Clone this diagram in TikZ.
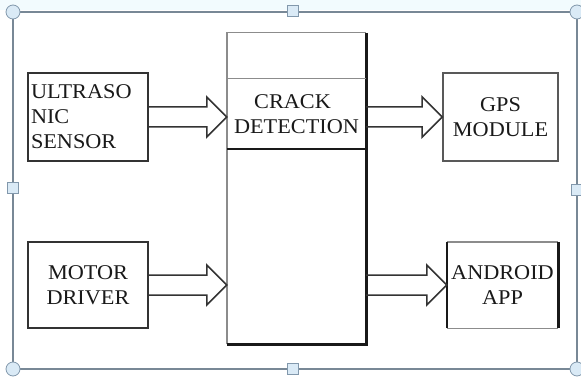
\documentclass[tikz,border=0pt]{standalone}
\usepackage{fontspec}
\setmainfont{Liberation Serif}[FakeStretch=1.06]
\usetikzlibrary{calc}

\definecolor{framegrey}{RGB}{120,136,150}
\definecolor{handleline}{RGB}{130,152,172}
\definecolor{handlefill}{RGB}{218,234,246}

% hollow block arrow: #1 tail node, #2 head node, #3 node that sets the height
\newcommand{\hollowarrow}[3]{%
  \draw[hollow] ($(#1.east |- #3.center)+(0,-10)$) -- ($(#2.west |- #3.center)+(-20,-10)$)
    -- ++(0,-10) -- (#2.west |- #3.center) -- ++(-20,20) -- ++(0,-10)
    -- ($(#1.east |- #3.center)+(0,10)$);}

\begin{document}
\begin{tikzpicture}[x=1pt,y=-1pt]
    \tikzstyle{every node}=[font=\fontsize{21}{25}\selectfont, inner sep=3pt, text=black!90]
    \tikzstyle{blk}=[draw=black!80, line width=1.6pt, minimum width=120pt, minimum height=88pt, align=center]
    \tikzstyle{hollow}=[draw=black!80, line width=1.5pt, line join=miter]
    \tikzstyle{greyline}=[draw=black!45, line width=1.4pt]
    \tikzstyle{darkline}=[draw=black!90, line width=2.6pt]
    \tikzstyle{frame}=[draw=framegrey, line width=1.2pt]
    \tikzstyle{handle}=[draw=handleline, fill=handlefill, line width=0.8pt]
    \useasboundingbox (0,0) rectangle (581,377);
    \fill[cyan!5] (0,0) rectangle (581,10);
    % selection frame with its handles
    \draw[frame] (13,12) rectangle (577,369);
    \foreach \x/\y in {13/12, 577/12, 13/369, 577/369}
        \draw[handle] (\x,\y) circle (7pt);
    \foreach \x/\y in {293/11, 293/369, 13/188, 577/190}
        \draw[handle] (\x-5.5,\y-5.5) rectangle (\x+5.5,\y+5.5);

    % inputs
    \node[blk, text width=114pt, align=left] (us) at (88,117) {ULTRASO\\NIC\\SENSOR};
    \node[blk, minimum height=86pt] (motor) at (88,285) {MOTOR\\DRIVER};

    % main block
    \node[minimum width=139pt, minimum height=311pt] (ctrl) at (296.5,188.5) {};
    \node[minimum width=139pt, minimum height=70pt, align=center] (crack) at (296.5,114)
        {\hspace*{-8pt}CRACK\\DETECTION};
    \draw[greyline] (ctrl.south west) -- (ctrl.north west) -- (ctrl.north east);
    \draw[darkline] (ctrl.north east) -- (ctrl.south east) -- (ctrl.south west);
    \draw[greyline] (crack.north west) -- (crack.north east);
    \draw[darkline] (crack.south west) -- (crack.south east);

    % outputs
    \node[blk, minimum width=115pt, draw=black!65] (gps) at (500.5,117) {GPS\\MODULE};
    \node[minimum width=111pt, minimum height=86pt, align=center] (app) at (502.5,285) {ANDROID\\APP};
    \draw[greyline] (app.north west) -- (app.north east);
    \draw[greyline] (app.south west) -- (app.south east);
    \draw[darkline] (app.north west) -- (app.south west);
    \draw[darkline] (app.north east) -- (app.south east);

    \hollowarrow{us}{ctrl}{us}
    \hollowarrow{motor}{ctrl}{motor}
    \hollowarrow{ctrl}{gps}{gps}
    \hollowarrow{ctrl}{app}{app}
\end{tikzpicture}
\end{document}
